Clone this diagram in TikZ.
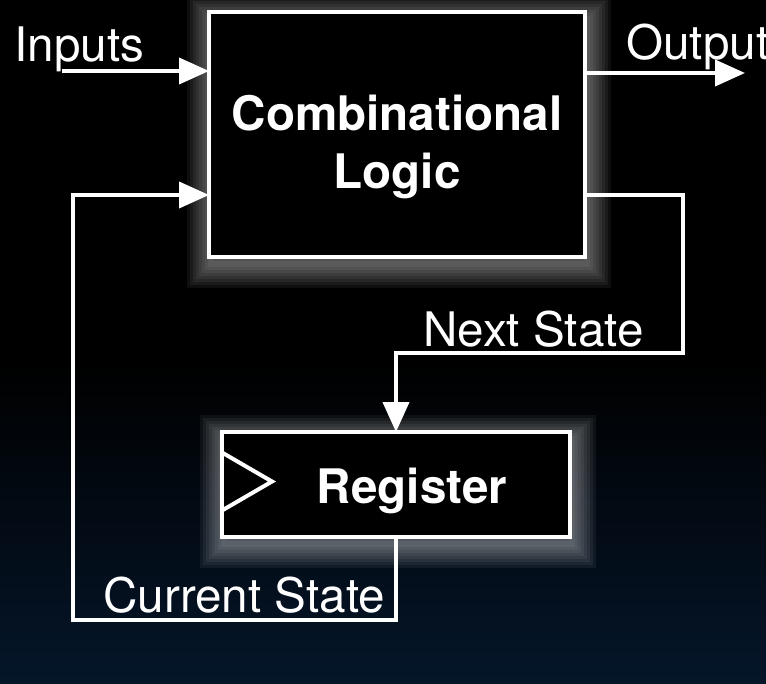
\documentclass[tikz,border=0pt]{standalone}
\usepackage{fontspec}
\setmainfont{TeX Gyre Heros}
\usetikzlibrary{arrows.meta, calc, positioning}
\definecolor{navybot}{RGB}{5,22,42}

\tikzset{
  wire/.style={draw=white, line width=2pt},
  arr/.style={wire, -{Triangle[length=15pt, width=13pt]}},
  txt/.style={text=white, font=\fontsize{23.8}{29}\selectfont, inner sep=0pt},
  title/.style={txt, font=\fontsize{23.8}{29}\selectfont\bfseries, align=center},
  glowring/.style={preaction={draw=white, opacity=0.055, line width=#1,
    transform canvas={shift={(1pt,-3.5pt)}}}},
  glow/.style={glowring=24pt, glowring=21pt, glowring=18pt, glowring=15pt,
    glowring=12pt, glowring=9pt, glowring=6pt, glowring=3pt},
  box/.style={glow, draw=white, fill=black, line width=2pt, outer sep=0pt, inner sep=0pt}
}

\begin{document}
\begin{tikzpicture}[x=0.5pt, y=-0.5pt]
  % background
  \fill[black] (0,0) rectangle (766,684);
  \shade[top color=black, bottom color=navybot] (0,360) rectangle (766,684);
  \useasboundingbox (0,0) rectangle (766,684);

  % blocks
  \node[box, minimum width=188pt, minimum height=122.5pt,
        label={[title, yshift=-6pt]center:{Combinational\\Logic}}] (logic) at (397,134.5) {};
  \node[box, minimum width=174pt, minimum height=52.5pt,
        label={[title, xshift=8pt, yshift=-3pt]center:Register}] (reg) at (396,484.5) {};
  \draw[wire, line join=miter] ($(reg.west)+(0,-32)$) -- ($(reg.west)+(50,-3)$) -- ($(reg.west)+(0,26)$);

  % end points and corners
  \coordinate (in) at (62,71);
  \coordinate (out) at (745,73);
  \coordinate (ns) at (683,353);
  \coordinate (cs) at (73,620);

  % connectors
  \draw[arr] (in) -- (in -| logic.west);
  \draw[arr] (logic.east |- out) -- (out);
  \draw[arr] (logic.east |- 0,195) -| (ns) -| (reg.north);
  \draw[arr] (reg.south) |- (cs) |- (logic.west |- 0,195);

  % labels
  \node[txt, anchor=base west] (lin) at (14,62) {Inputs};
  \node[txt, anchor=base west] (lout) at (626,60) {Output};
  \node[txt, anchor=base west] (lns) at (423,347) {Next State};
  \node[txt, anchor=base west] (lcs) at (103,612) {Current State};
\end{tikzpicture}
\end{document}
